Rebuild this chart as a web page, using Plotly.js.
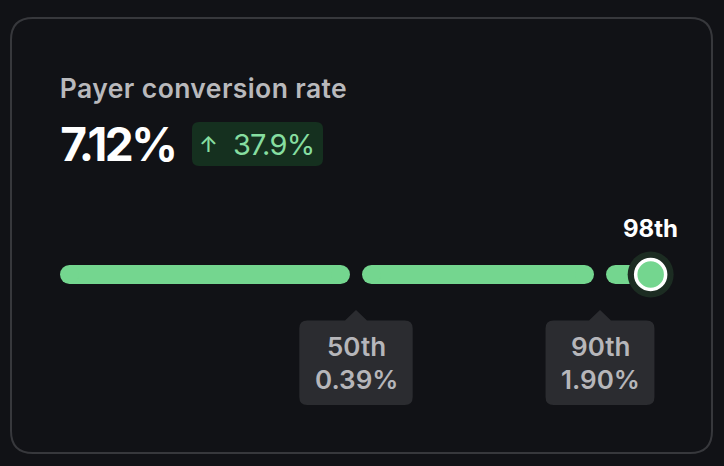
<!DOCTYPE html>
<html><head><meta charset="utf-8">
<script src="https://cdn.plot.ly/plotly-3.0.1.min.js"></script>
<style>html,body{margin:0;padding:0;background:#111216;} #chart{width:724px;height:466px;}
.annotation[data-index="6"] text{letter-spacing:-2.5px;}
.annotation[data-index="8"] text{letter-spacing:-0.8px;}
.annotation[data-index="5"] text{letter-spacing:0.4px;}
</style>
</head><body><div id="chart"></div>
<script>
// ---- data ----
const metricTitle = 'Payer conversion rate';
const metricValue = '7.12%';
const metricChange = '37.9%';
const bandEdges = [0, 50, 90, 100];
const currentPct = 98;
const currentLabel = '98th';
const benchPcts = [50, 90];
const benchLabels = ['50th', '90th'];
const benchValues = ['0.39%', '1.90%'];

// ---- layout constants ----
const W = 724, H = 466;
const PX_PER_PCT = 5.8, GAP_PX = 12, BAR_W = 19;
const LEFT_PX = 60, BAR_PY = 274.5;
const G = GAP_PX / PX_PER_PCT;
const capU = (BAR_W / 2) / PX_PER_PCT;
const GREEN = '#74d68f';
const FONT = 'Inter, "Noto Sans", sans-serif';

function segIndex(p){ let k=0; for(let i=1;i<bandEdges.length-1;i++){ if(p>=bandEdges[i]) k=i; } return k; }
function disp(p){ return p + segIndex(p)*G; }
function edgeDisp(p){ const k = bandEdges.indexOf(p); return p + (k-0.5)*G; }

const traces = [];
for (let i = 0; i < bandEdges.length - 1; i++) {
  const a = bandEdges[i] + i*G + capU, b = bandEdges[i+1] + i*G - capU;
  traces.push({x:[a,b], y:[0,0], mode:'lines+markers', hoverinfo:'skip',
    line:{color:GREEN, width:BAR_W}, marker:{color:GREEN, size:BAR_W, line:{width:0}}});
}
const cx = disp(currentPct) - 0.3;
traces.push({x:[cx], y:[0], mode:'markers', hoverinfo:'skip', marker:{color:'#1c2c22', size:46, line:{width:0}}});
traces.push({x:[cx], y:[0], mode:'markers', hoverinfo:'skip', marker:{color:GREEN, size:30, line:{color:'#ffffff', width:3.5}}});

function rr(x0,y0,x1,y1,r){ // pixel coords, y up (y0 top > y1 bottom)
  return `M${x0+r},${y0} L${x1-r},${y0} Q${x1},${y0} ${x1},${y0-r} L${x1},${y1+r} Q${x1},${y1} ${x1-r},${y1} L${x0+r},${y1} Q${x0},${y1} ${x0},${y1+r} L${x0},${y0-r} Q${x0},${y0} ${x0+r},${y0} Z`;
}

const shapes = [];
shapes.push({type:'path', xref:'paper', yref:'paper', xsizemode:'pixel', ysizemode:'pixel', xanchor:0, yanchor:1,
  path: rr(11,-18,712,-453,22), line:{color:'#37383c', width:2}, fillcolor:'rgba(0,0,0,0)', layer:'below'});
shapes.push({type:'path', xref:'paper', yref:'paper', xsizemode:'pixel', ysizemode:'pixel', xanchor:0, yanchor:1,
  path: rr(192,-122,323,-166,7), line:{width:0}, fillcolor:'#15301f', layer:'below'});

const ctx = document.createElement('canvas').getContext('2d');
ctx.font = '600 26px Inter';
const annotations = [];
const TOP=-46, BOT=-130.5, TIP=-35.5, AH=11, R=8;
benchPcts.forEach((p,i)=>{
  const w = Math.max(ctx.measureText(benchLabels[i]).width, ctx.measureText(benchValues[i]).width) + 30;
  const h = w/2;
  const path = `M${-h+R},${TOP} L${-AH},${TOP} L0,${TIP} L${AH},${TOP} L${h-R},${TOP} Q${h},${TOP} ${h},${TOP-R} L${h},${BOT+R} Q${h},${BOT} ${h-R},${BOT} L${-h+R},${BOT} Q${-h},${BOT} ${-h},${BOT+R} L${-h},${TOP-R} Q${-h},${TOP} ${-h+R},${TOP} Z`;
  shapes.push({type:'path', xref:'x', yref:'y', xsizemode:'pixel', ysizemode:'pixel', xanchor:edgeDisp(p), yanchor:0,
    path, line:{width:0}, fillcolor:'#2b2c30'});
  annotations.push({xref:'x', yref:'y', x:edgeDisp(p), y:-72, text:benchLabels[i], showarrow:false, xanchor:'center', yanchor:'middle',
    font:{family:FONT, size:26, weight:600, color:'#b6b6ba'}});
  annotations.push({xref:'x', yref:'y', x:edgeDisp(p), y:-104.5, text:benchValues[i], showarrow:false, xanchor:'center', yanchor:'middle',
    font:{family:FONT, size:26, weight:600, color:'#b6b6ba'}});
});
annotations.push({xref:'x', yref:'y', x:cx, y:46, text:currentLabel, showarrow:false, xanchor:'center', yanchor:'middle',
  font:{family:FONT, size:24, weight:700, color:'#ffffff'}});
const P = (px,py)=>({x:px/W, y:1-py/H});
annotations.push({xref:'paper', yref:'paper', ...P(62,88), text:metricTitle, showarrow:false, xanchor:'left', yanchor:'middle',
  font:{family:FONT, size:26.5, weight:600, color:'#b9b9bc'}});
annotations.push({xref:'paper', yref:'paper', ...P(52,144), text:metricValue, showarrow:false, xanchor:'left', yanchor:'middle',
  font:{family:FONT, size:46, weight:700, color:'#ffffff'}});
annotations.push({xref:'paper', yref:'paper', ...P(208,144), text:'↑', showarrow:false, xanchor:'center', yanchor:'middle',
  font:{family:FONT, size:22, weight:500, color:'#86dea0'}});
annotations.push({xref:'paper', yref:'paper', ...P(229,144), text:metricChange, showarrow:false, xanchor:'left', yanchor:'middle',
  font:{family:FONT, size:29, weight:400, color:'#86dea0'}});

const layout = {
  width:W, height:H, margin:{l:0,r:0,t:0,b:0,pad:0},
  paper_bgcolor:'#111216', plot_bgcolor:'rgba(0,0,0,0)', showlegend:false,
  xaxis:{range:[-LEFT_PX/PX_PER_PCT, (W-LEFT_PX)/PX_PER_PCT], visible:false, fixedrange:true},
  yaxis:{range:[-(H-BAR_PY), BAR_PY], visible:false, fixedrange:true},
  shapes, annotations
};
Plotly.newPlot('chart', traces, layout, {displayModeBar:false, staticPlot:true});
</script></body></html>
